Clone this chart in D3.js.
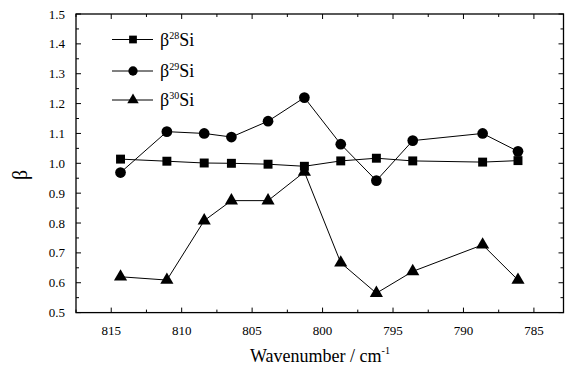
<!DOCTYPE html>
<html>
<head>
<meta charset="utf-8">
<script src="https://cdn.jsdelivr.net/npm/d3@7"></script>
<style>
  body { margin: 0; background: #fff; }
</style>
</head>
<body>
<svg id="chart" width="568" height="370"></svg>
<script>
const wavenumbers = [814.34, 811.05, 808.4, 806.47, 803.87, 801.29, 798.71, 796.18, 793.6, 788.64, 786.13];
const beta28 = [1.014, 1.007, 1.001, 1.0, 0.997, 0.99, 1.008, 1.017, 1.008, 1.004, 1.009];
const beta29 = [0.969, 1.106, 1.1, 1.088, 1.141, 1.22, 1.064, 0.942, 1.076, 1.1, 1.04];
const beta30 = [0.62, 0.609, 0.808, 0.875, 0.875, 0.971, 0.667, 0.565, 0.638, 0.727, 0.609];
const xTicks = [815, 810, 805, 800, 795, 790, 785];
const yTicks = [0.5, 0.6, 0.7, 0.8, 0.9, 1.0, 1.1, 1.2, 1.3, 1.4, 1.5];
const seriesNames = ['28', '29', '30'];

const FONT = "'Liberation Serif', 'DejaVu Serif', serif";
const svg = d3.select('#chart');
const plotL = 76, plotR = 563.5, plotT = 14, plotB = 312.6;

const x = d3.scaleLinear().domain([817.5, 782.9]).range([plotL, plotR]);
const y = d3.scaleLinear().domain([0.5, 1.5]).range([plotB, plotT]);

const series = [
  { name: seriesNames[0], values: beta28, shape: d3.symbolSquare, size: 80 },
  { name: seriesNames[1], values: beta29, shape: d3.symbolCircle, size: 90 },
  { name: seriesNames[2], values: beta30, shape: d3.symbolTriangle, size: 75 }
];

// minor ticks
const xMinor = d3.range(817.5, 782.9, -2.5).filter(v => !xTicks.includes(v));
const yMinor = d3.range(0.55, 1.5, 0.1);

const g = svg.append('g');

function tickLines(vals, len, horiz) {
  vals.forEach(v => {
    if (horiz) {
      g.append('line').attr('x1', x(v)).attr('x2', x(v)).attr('y1', plotB).attr('y2', plotB - len).attr('stroke', '#000');
      g.append('line').attr('x1', x(v)).attr('x2', x(v)).attr('y1', plotT).attr('y2', plotT + len).attr('stroke', '#000');
    } else {
      g.append('line').attr('y1', y(v)).attr('y2', y(v)).attr('x1', plotL).attr('x2', plotL + len).attr('stroke', '#000');
      g.append('line').attr('y1', y(v)).attr('y2', y(v)).attr('x1', plotR).attr('x2', plotR - len).attr('stroke', '#000');
    }
  });
}
tickLines(xTicks, 5, true);
tickLines(xMinor, 3, true);
tickLines(yTicks, 5, false);
tickLines(yMinor, 3, false);

g.append('rect')
  .attr('x', plotL).attr('y', plotT)
  .attr('width', plotR - plotL).attr('height', plotB - plotT)
  .attr('fill', 'none').attr('stroke', '#000').attr('stroke-width', 1.3);

// tick labels
g.selectAll('.xl').data(xTicks).enter().append('text')
  .style('font-family', FONT)
  .attr('x', d => x(d)).attr('y', plotB + 22)
  .attr('text-anchor', 'middle').attr('font-size', 13)
  .text(d => d);
g.selectAll('.yl').data(yTicks).enter().append('text')
  .style('font-family', FONT)
  .attr('x', plotL - 11).attr('y', d => y(d) + 4.5)
  .attr('text-anchor', 'end').attr('font-size', 13)
  .text(d => d.toFixed(1));

// axis titles
const xt = svg.append('text')
  .style('font-family', FONT)
  .attr('x', 320).attr('y', 362)
  .attr('text-anchor', 'middle').attr('font-size', 18);
xt.append('tspan').text('Wavenumber / cm');
xt.append('tspan').attr('font-size', 10).attr('dy', -8).text('-1');

svg.append('text')
  .style('font-family', FONT)
  .attr('transform', 'translate(27,175) rotate(-90)')
  .attr('text-anchor', 'middle').attr('font-size', 20)
  .text('β');

// lines and markers
const line = d3.line().x((d, i) => x(wavenumbers[i])).y(d => y(d));
series.forEach(s => {
  g.append('path').datum(s.values)
    .attr('d', line).attr('fill', 'none').attr('stroke', '#000').attr('stroke-width', 1);
  g.selectAll(null).data(s.values).enter().append('path')
    .attr('transform', (d, i) => `translate(${x(wavenumbers[i])},${y(d)})`)
    .attr('d', d3.symbol().type(s.shape).size(s.size))
    .attr('fill', '#000');
});

// legend
const legendY = [39.5, 71, 100];
series.forEach((s, i) => {
  const ly = legendY[i];
  g.append('line').attr('x1', 112).attr('x2', 153).attr('y1', ly).attr('y2', ly).attr('stroke', '#000');
  g.append('path').attr('transform', `translate(133,${ly})`)
    .attr('d', d3.symbol().type(s.shape).size(s.size * 0.75)).attr('fill', '#000');
  const t = g.append('text').style('font-family', FONT)
    .attr('x', 160).attr('y', ly + 6).attr('font-size', 18);
  t.append('tspan').text('β');
  t.append('tspan').attr('font-size', 10).attr('dy', -7).text(s.name);
  t.append('tspan').attr('dy', 7).text('Si');
});
</script>
</body>
</html>
